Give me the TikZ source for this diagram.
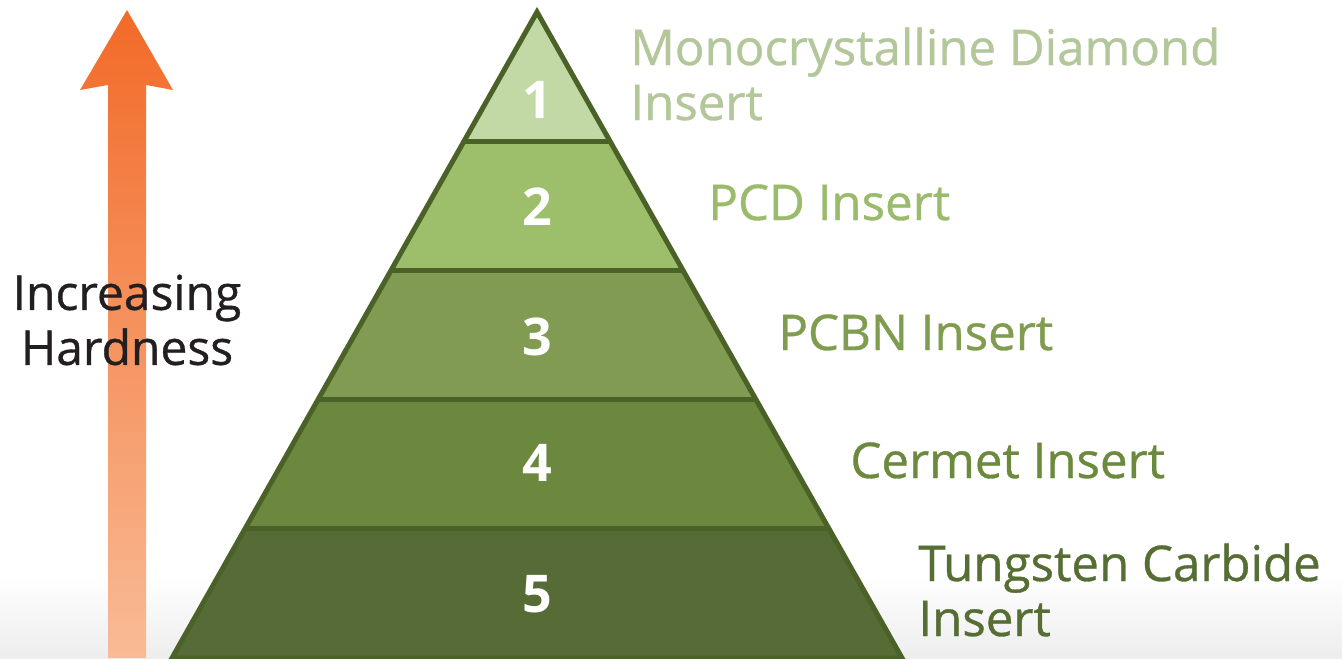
\documentclass[tikz,border=0pt]{standalone}
\usepackage{fontspec}
\setmainfont{Open Sans}
\newfontfamily\labfont{Open Sans}[FakeBold=0.7]
\usetikzlibrary{calc,positioning}

\definecolor{edgegreen}{HTML}{4A6128}
\definecolor{fillA}{HTML}{C3D9A5}
\definecolor{fillB}{HTML}{9DBF6C}
\definecolor{fillC}{HTML}{829B52}
\definecolor{fillD}{HTML}{6C873E}
\definecolor{fillE}{HTML}{566B35}
\definecolor{textA}{HTML}{B3C79A}
\definecolor{textB}{HTML}{9BBB6C}
\definecolor{textC}{HTML}{809D4F}
\definecolor{textD}{HTML}{6B8A3D}
\definecolor{textE}{HTML}{566D34}
\definecolor{textK}{HTML}{231F20}
\definecolor{arrowtop}{HTML}{F26A28}
\definecolor{arrowbot}{HTML}{F9BB95}

\tikzset{
  layernum/.style={text=white, font=\bfseries\fontsize{26}{30}\selectfont, inner sep=0pt},
  layerlab/.style={anchor=base west, align=left, inner sep=0pt,
                   font=\labfont\fontsize{24.6}{27.5}\selectfont},
}

\begin{document}
\begin{tikzpicture}[x=0.5pt,y=-0.5pt]
\useasboundingbox (0,0) rectangle (1342,658);
\fill[white] (0,0) rectangle (1342,658);
\shade[top color=white,bottom color=black!7] (0,575) rectangle (1342,658);

% hardness arrow
\shade[top color=arrowtop,bottom color=arrowbot]
  (127,10) -- (173,90) -- (146,85) -- (146,658) -- (108,658) -- (108,85) -- (80,90) -- cycle;
\node[align=center, inner sep=0pt, text=textK, font=\labfont\fontsize{24}{27.5}\selectfont] (hard) at (127,320) {Increasing\\Hardness};

% pyramid
\coordinate (apex) at (537,12);
\coordinate (bl) at (172,658);
\coordinate (br) at (902,658);
\foreach \i/\col in {0/fillA,1/fillB,2/fillC,3/fillD,4/fillE}{
  \pgfmathsetmacro\ftop{0.2*\i}
  \pgfmathsetmacro\fbot{0.2*(\i+1)}
  \fill[\col] ($(apex)!\ftop!(bl)$) -- ($(apex)!\fbot!(bl)$) -- ($(apex)!\fbot!(br)$) -- ($(apex)!\ftop!(br)$) -- cycle;
}
\foreach \i in {1,...,4}{
  \pgfmathsetmacro\f{0.2*\i}
  \draw[edgegreen, line width=2.5pt] ($(apex)!\f!(bl)$) -- ($(apex)!\f!(br)$);
}
\draw[edgegreen, line width=2.5pt, line join=miter] (bl) -- (apex) -- (br) -- cycle;

% layer numbers
\node[layernum] (num1) at (537,100) {1};
\node[layernum] (num2) at (537,207) {2};
\node[layernum] (num3) at (537,337) {3};
\node[layernum] (num4) at (537,463) {4};
\node[layernum] (num5) at (537,594) {5};

% layer labels
\node[layerlab, text=textA] (lab1) at (630,120) {Monocrystalline Diamond\\Insert};
\node[layerlab, text=textB] (lab2) at (708,220) {PCD Insert};
\node[layerlab, text=textC] (lab3) at (778,350) {PCBN Insert};
\node[layerlab, text=textD] (lab4) at (850,478) {Cermet Insert};
\node[layerlab, text=textE] (lab5) at (918,636) {Tungsten Carbide\\Insert};
\end{tikzpicture}
\end{document}
